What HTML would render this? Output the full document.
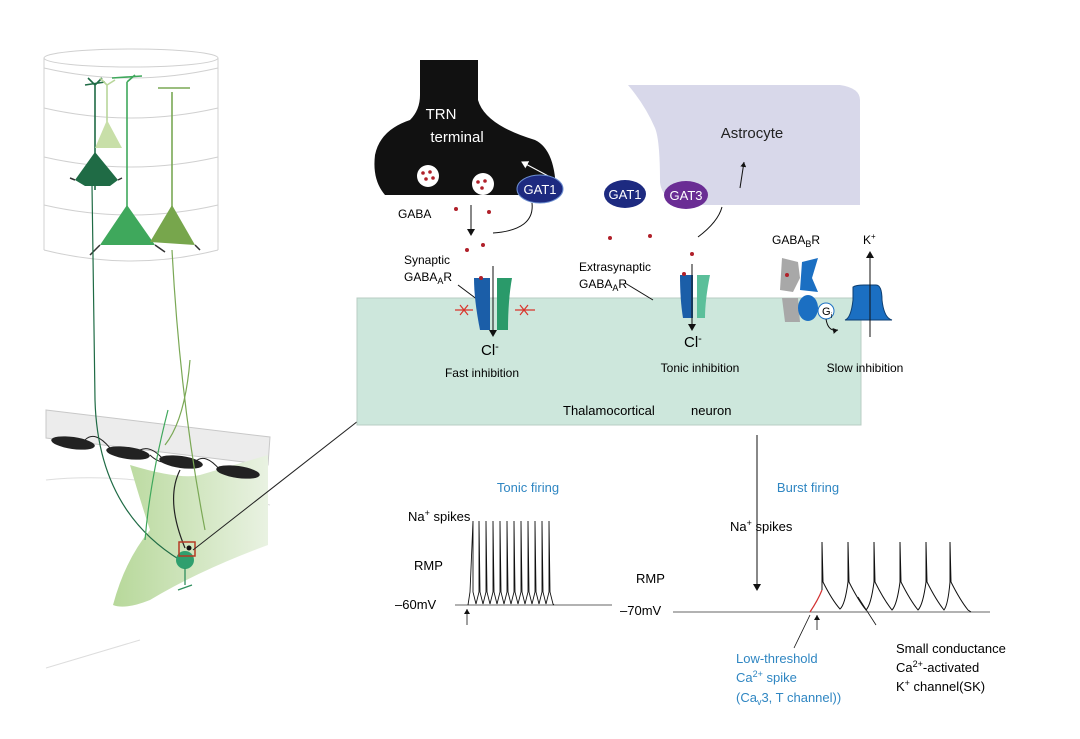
<!DOCTYPE html>
<html><head><meta charset="utf-8"><style>
body{margin:0;background:#fff}
svg{display:block;font-family:"Liberation Sans",Arial,sans-serif}
</style></head><body>
<svg width="1080" height="739" viewBox="0 0 1080 739" xmlns="http://www.w3.org/2000/svg">
<defs>
<marker id="ah" markerWidth="8" markerHeight="8" refX="6" refY="4" orient="auto" markerUnits="userSpaceOnUse"><path d="M0,0 L7,4 L0,8 Z" fill="#111"/></marker>
<marker id="ahs" markerWidth="6" markerHeight="6" refX="5" refY="3" orient="auto" markerUnits="userSpaceOnUse"><path d="M0,0 L5,3 L0,6 Z" fill="#111"/></marker>
<marker id="ahw" markerWidth="8" markerHeight="8" refX="6" refY="4" orient="auto" markerUnits="userSpaceOnUse"><path d="M0,0 L7,4 L0,8 Z" fill="#fff"/></marker>
<linearGradient id="thg" x1="0" x2="1"><stop offset="0" stop-color="#b7d89a"/><stop offset="1" stop-color="#e9f2e2"/></linearGradient>
</defs>
<!-- cylinder -->
<g fill="none" stroke="#d0d0d0" stroke-width="1">
<ellipse cx="131" cy="58" rx="87" ry="9"/>
<line x1="44" y1="58" x2="44" y2="250"/><line x1="218" y1="58" x2="218" y2="250"/>
<path d="M44,68 Q131,88 218,68"/><path d="M44,108 Q131,128 218,108"/><path d="M44,157 Q131,177 218,157"/><path d="M44,205 Q131,225 218,205"/><path d="M44,250 Q131,272 218,250"/>
</g>
<!-- gray band -->
<path d="M46,410 L270,437 L268,465 L46,438 Z" fill="#ececec" stroke="#c8c8c8"/>
<path d="M46,480 Q140,470 270,505" fill="none" stroke="#ddd"/>
<path d="M46,668 Q90,655 140,640" fill="none" stroke="#ddd"/>
<!-- thalamus -->
<path d="M130,465 Q180,480 200,475 L268,455 L268,545 Q200,570 150,600 Q125,610 113,605 Q125,560 150,530 Q140,500 130,465 Z" fill="url(#thg)"/>
<g fill="#222"><ellipse cx="73" cy="443" rx="22" ry="6" transform="rotate(8 73 443)"/><ellipse cx="128" cy="453" rx="22" ry="6" transform="rotate(8 128 453)"/><ellipse cx="181" cy="462" rx="22" ry="6" transform="rotate(8 181 462)"/><ellipse cx="238" cy="472" rx="22" ry="6" transform="rotate(8 238 472)"/></g>
<g fill="none" stroke="#222" stroke-width="1"><path d="M85,440 Q95,430 110,448"/><path d="M140,450 Q150,445 162,458"/><path d="M195,462 Q205,452 220,470"/><path d="M150,455 Q160,465 175,462"/></g>
<!-- neurons -->
<g stroke-width="1.6" fill="none">
<path d="M95,190 L95,85 M85,85 L105,82 M95,85 L88,78 M95,85 L102,78" stroke="#1f6b45"/>
<path d="M107,145 L107,85 L100,78 M107,85 L115,80" stroke="#b8d69a"/>
<path d="M127,240 L127,82 M112,78 L142,76 M127,82 L135,75" stroke="#3fa85c"/>
<path d="M172,240 L172,92 M158,88 L190,88" stroke="#7aa855"/>
</g>
<path d="M107,120 L95,148 L122,148 Z" fill="#c8dfa8"/>
<path d="M95,152 L75,180 L85,186 L110,186 L118,180 Z" fill="#1f6b45"/>
<path d="M127,205 L100,245 L155,245 Z" fill="#3fa85c"/>
<path d="M172,205 L150,242 L195,245 Z" fill="#77a64c"/>
<path d="M75,180 L70,178 M118,180 L122,178 M100,245 L90,255 M155,245 L165,252 M195,245 L200,250" stroke="#333" stroke-width="1.5"/>
<!-- axons -->
<g fill="none" stroke-width="1.2">
<path d="M92,185 L95,400 Q98,510 180,560" stroke="#1f6b45"/>
<path d="M172,250 Q180,400 205,530" stroke="#7aa855"/>
<path d="M190,360 Q185,420 165,445" stroke="#7aa855"/>
<path d="M168,410 Q150,480 145,540" stroke="#3fa85c"/>
<path d="M180,470 Q165,500 185,548" stroke="#222"/>
</g>
<circle cx="185" cy="560" r="9" fill="#2f9f6e"/>
<path d="M185,568 L185,585 M178,590 L192,585" stroke="#2f8f5e" stroke-width="1.3" fill="none"/>
<rect x="179" y="542" width="16" height="14" fill="none" stroke="#b53a24" stroke-width="1.5"/>
<circle cx="189" cy="548" r="2.5" fill="#111"/>
<line x1="193" y1="550" x2="413" y2="378" stroke="#222" stroke-width="1"/>
<!-- membrane -->
<rect x="357" y="298" width="504" height="127" fill="#cde7dc" stroke="#b8ccc3"/>
<!-- TRN terminal -->
<path d="M420,60 L478,60 L478,100 Q485,125 535,140 Q556,150 556,195 L385,195 Q372,180 375,155 Q380,130 410,120 Q420,110 420,95 Z" fill="#111"/>
<text x="441" y="119" fill="#fff" font-size="15" text-anchor="middle">TRN</text>
<text x="457" y="142" fill="#fff" font-size="15" text-anchor="middle">terminal</text>
<line x1="552" y1="178" x2="522" y2="162" stroke="#fff" stroke-width="1" marker-end="url(#ahw)"/>
<circle cx="428" cy="176" r="11" fill="#fff"/><circle cx="483" cy="184" r="11" fill="#fff"/>
<g fill="#b0202a"><circle cx="423" cy="173" r="1.8"/><circle cx="430" cy="172" r="1.8"/><circle cx="426" cy="179" r="1.8"/><circle cx="433" cy="178" r="1.8"/><circle cx="478" cy="182" r="1.8"/><circle cx="485" cy="181" r="1.8"/><circle cx="482" cy="188" r="1.8"/></g>
<ellipse cx="540" cy="189" rx="23" ry="14" fill="#1d2a80" stroke="#6d8fd0"/>
<text x="540" y="194" fill="#fff" font-size="13" text-anchor="middle">GAT1</text>
<text x="398" y="218" font-size="12">GABA</text>
<path d="M532,203 Q535,230 493,233" fill="none" stroke="#111"/>
<line x1="471" y1="205" x2="471" y2="235" stroke="#111" marker-end="url(#ah)"/>
<g fill="#b0202a"><circle cx="456" cy="209" r="2"/><circle cx="489" cy="212" r="2"/><circle cx="467" cy="250" r="2"/><circle cx="483" cy="245" r="2"/><circle cx="610" cy="238" r="2"/><circle cx="650" cy="236" r="2"/><circle cx="692" cy="254" r="2"/><circle cx="746" cy="157" r="2"/></g>
<!-- astrocyte -->
<path d="M628,85 L840,85 Q860,88 860,100 L860,205 L700,205 Q662,205 660,182 Q660,140 655,128 Q645,105 628,85 Z" fill="#d8d8ea"/>
<text x="752" y="138" font-size="15" text-anchor="middle" fill="#222">Astrocyte</text>
<ellipse cx="625" cy="194" rx="21" ry="14" fill="#1d2a80"/>
<text x="625" y="199" fill="#fff" font-size="13" text-anchor="middle">GAT1</text>
<ellipse cx="686" cy="195" rx="22" ry="14" fill="#6a2d94"/>
<text x="686" y="200" fill="#fff" font-size="13" text-anchor="middle">GAT3</text>
<path d="M698,237 Q718,222 722,207" fill="none" stroke="#111"/>
<line x1="740" y1="188" x2="744" y2="162" stroke="#111" marker-end="url(#ahs)"/>
<!-- synaptic receptor -->
<text x="404" y="264" font-size="12">Synaptic</text>
<text x="404" y="281" font-size="12">GABA<tspan font-size="9" dy="3">A</tspan><tspan dy="-3">R</tspan></text>
<line x1="458" y1="285" x2="478" y2="300" stroke="#111"/>
<path d="M474,278 L490,278 L490,330 L480,330 Q474,300 474,278 Z" fill="#1b5ea8"/>
<path d="M497,278 L512,278 Q508,300 508,330 L497,330 Z" fill="#2a9a6a"/>
<circle cx="481" cy="278" r="2" fill="#b0202a"/>
<g stroke="#d9342b" fill="none" stroke-width="1.2"><path d="M455,310 L473,310 M460,305 L468,315 M460,315 L468,305 M515,310 L535,310 M520,305 L528,315 M520,315 L528,305"/></g>
<line x1="493" y1="266" x2="493" y2="336" stroke="#111" marker-end="url(#ah)"/>
<text x="481" y="355" font-size="15">Cl<tspan font-size="11" dy="-5">-</tspan></text>
<text x="482" y="377" font-size="12" text-anchor="middle">Fast inhibition</text>
<!-- extrasynaptic -->
<text x="579" y="271" font-size="12">Extrasynaptic</text>
<text x="579" y="288" font-size="12">GABA<tspan font-size="9" dy="3">A</tspan><tspan dy="-3">R</tspan></text>
<line x1="625" y1="283" x2="653" y2="300" stroke="#111"/>
<path d="M680,275 L693,275 L693,318 L683,318 Q680,300 680,275 Z" fill="#1b5ea8"/>
<path d="M697,275 L710,275 Q705,300 705,318 L697,318 Z" fill="#5bbf9a"/>
<circle cx="684" cy="274" r="2" fill="#b0202a"/>
<line x1="692" y1="264" x2="692" y2="330" stroke="#111" marker-end="url(#ah)"/>
<text x="684" y="347" font-size="15">Cl<tspan font-size="11" dy="-5">-</tspan></text>
<text x="700" y="372" font-size="12" text-anchor="middle">Tonic inhibition</text>
<!-- GABAB -->
<text x="772" y="244" font-size="12">GABA<tspan font-size="9" dy="3">B</tspan><tspan dy="-3">R</tspan></text>
<text x="863" y="244" font-size="12">K<tspan font-size="8" dy="-5">+</tspan></text>
<path d="M782,258 L798,262 L800,278 L793,292 L780,290 Z" fill="#a8a8a8"/>
<path d="M782,298 L798,298 L800,322 L785,322 Z" fill="#a8a8a8"/>
<path d="M802,262 L818,258 L812,278 L818,292 L800,290 Z" fill="#1b6fc2"/>
<ellipse cx="808" cy="308" rx="10" ry="13" fill="#1b6fc2"/>
<circle cx="787" cy="275" r="2" fill="#b0202a"/>
<circle cx="826" cy="311" r="8" fill="#fff" stroke="#1b6fc2"/>
<text x="822" y="315" font-size="11">G<tspan font-size="7" dy="3">i</tspan></text>
<path d="M826,319 Q828,332 838,330" fill="none" stroke="#111" marker-end="url(#ahs)"/>
<path d="M853,287 Q856,285 864,285 L876,285 Q882,285 882,300 Q884,318 892,320 L845,320 Q851,318 853,300 Z" fill="#1b6fc2" stroke="#0d3e70"/>
<line x1="870" y1="337" x2="870" y2="252" stroke="#111" marker-end="url(#ah)"/>
<text x="865" y="372" font-size="12" text-anchor="middle">Slow inhibition</text>
<text x="563" y="415" font-size="13">Thalamocortical</text>
<text x="691" y="415" font-size="13">neuron</text>
<!-- down arrow -->
<line x1="757" y1="435" x2="757" y2="590" stroke="#111" marker-end="url(#ah)"/>
<!-- tonic -->
<text x="528" y="492" font-size="13" fill="#2f86c2" text-anchor="middle">Tonic firing</text>
<text x="408" y="521" font-size="13">Na<tspan font-size="9" dy="-5">+</tspan><tspan dy="5"> spikes</tspan></text>
<text x="414" y="570" font-size="13">RMP</text>
<text x="395" y="609" font-size="13">–60mV</text>
<line x1="455" y1="605" x2="612" y2="605" stroke="#666"/>
<path d="M468,605 L470,592 L473,521 L473,592 L476,604 L479,592 L479,521 L480,592 L483,604 L486,592 L486,521 L487,592 L490,604 L493,592 L493,521 L494,592 L497,604 L500,592 L500,521 L501,592 L504,604 L507,592 L507,521 L508,592 L511,604 L514,592 L514,521 L515,592 L518,604 L521,592 L521,521 L522,592 L525,604 L528,592 L528,521 L529,592 L532,604 L535,592 L535,521 L536,592 L539,604 L542,592 L542,521 L543,592 L546,604 L549,592 L549,521 L550,592 L553,604 L554,605" fill="none" stroke="#111" stroke-width="0.9"/>
<line x1="467" y1="625" x2="467" y2="609" stroke="#111" stroke-width="0.8" marker-end="url(#ahs)"/>
<!-- burst -->
<text x="808" y="492" font-size="13" fill="#2f86c2" text-anchor="middle">Burst firing</text>
<text x="730" y="531" font-size="13">Na<tspan font-size="9" dy="-5">+</tspan><tspan dy="5"> spikes</tspan></text>
<text x="636" y="583" font-size="13">RMP</text>
<text x="620" y="615" font-size="13">–70mV</text>
<line x1="673" y1="612" x2="990" y2="612" stroke="#666"/>
<path d="M810,612 Q818,600 822,590" fill="none" stroke="#d23030" stroke-width="1.2"/>
<path d="M822,590 L822,542 L823,582 Q832,600 840,609 Q845,605 848,582 L848,542 L849,582 Q858,600 866,610 Q871,605 874,582 L874,542 L875,582 Q884,600 892,610 Q897,605 900,582 L900,542 L901,582 Q910,600 918,610 Q923,605 926,582 L926,542 L927,582 Q936,600 944,610 Q948,605 950,582 L950,542 L951,582 Q960,600 968,610 L971,612" fill="none" stroke="#111" stroke-width="1"/>
<line x1="817" y1="630" x2="817" y2="615" stroke="#111" stroke-width="0.8" marker-end="url(#ahs)"/>
<line x1="810" y1="615" x2="794" y2="648" stroke="#111" stroke-width="0.8"/>
<line x1="858" y1="597" x2="876" y2="625" stroke="#111" stroke-width="0.8"/>
<text x="736" y="663" font-size="13" fill="#2f86c2">Low-threshold</text>
<text x="736" y="682" font-size="13" fill="#2f86c2">Ca<tspan font-size="9" dy="-5">2+</tspan><tspan dy="5"> spike</tspan></text>
<text x="736" y="702" font-size="13" fill="#2f86c2">(Ca<tspan font-size="9" dy="3">v</tspan><tspan dy="-3">3, T channel))</tspan></text>
<text x="896" y="653" font-size="13">Small conductance</text>
<text x="896" y="672" font-size="13">Ca<tspan font-size="9" dy="-5">2+</tspan><tspan dy="5">-activated</tspan></text>
<text x="896" y="691" font-size="13">K<tspan font-size="9" dy="-5">+</tspan><tspan dy="5"> channel(SK)</tspan></text>
</svg>
</body></html>
